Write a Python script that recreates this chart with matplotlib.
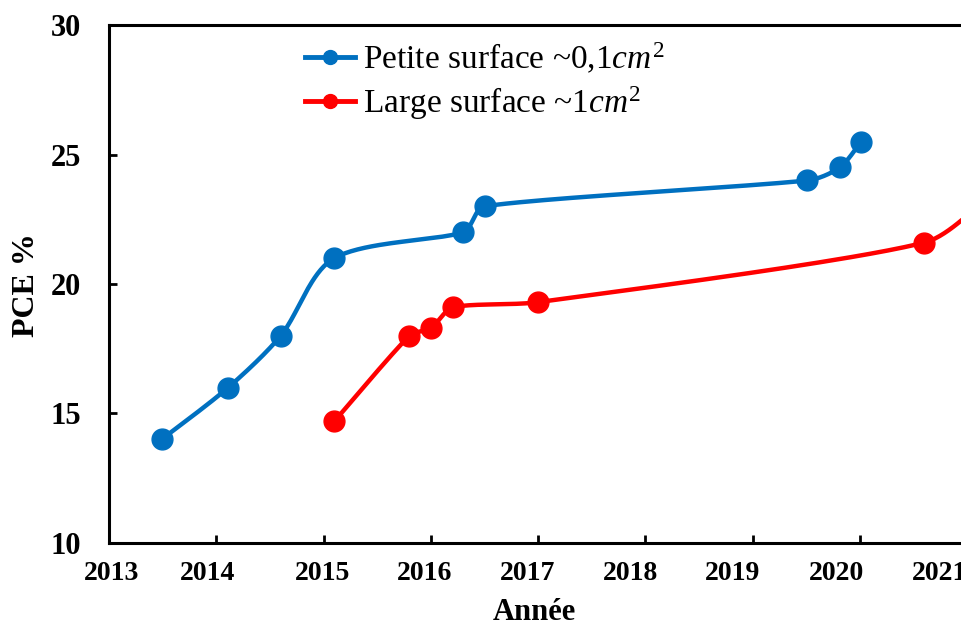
import matplotlib
matplotlib.use('Agg')
import matplotlib.pyplot as plt
from matplotlib.lines import Line2D
import numpy as np

# data
years = [2013, 2014, 2015, 2016, 2017, 2018, 2019, 2020, 2021]
yticks = [10, 15, 20, 25, 30]

small_x = [2013.49, 2014.11, 2014.60, 2015.10, 2016.30, 2016.50, 2019.51, 2019.81, 2020.01]
small_y = [14.0, 16.0, 18.0, 21.0, 22.0, 23.0, 24.0, 24.5, 25.5]

large_x = [2015.10, 2015.80, 2016.00, 2016.21, 2017.00, 2020.60, 2021.30]
large_y = [14.7, 18.0, 18.3, 19.1, 19.3, 21.6, 23.8]

label_small = 'Petite surface ~0,1$cm^2$'
label_large = 'Large surface ~1$cm^2$'

blue = '#0070C0'
red = '#FF0000'

# the year labels in the original sit a little left of their ticks
label_shift = [0.02, -0.08, -0.01, -0.06, -0.10, -0.14, -0.19, -0.22, -0.26]

plt.rcParams['font.family'] = ['Liberation Serif', 'DejaVu Serif']
plt.rcParams['mathtext.fontset'] = 'custom'
plt.rcParams['mathtext.rm'] = 'Liberation Serif'
plt.rcParams['mathtext.it'] = 'Liberation Serif:italic'

PX_X, PX_Y = 107.3, 25.9   # pixels per year / per PCE unit


def smooth(xs, ys, n=40):
    # Excel-like smoothed line: cubic bezier through the points,
    # worked out in pixel space, control arms clamped to short segments
    p = np.column_stack([np.array(xs) * PX_X, np.array(ys) * PX_Y])
    m = len(p)
    tang = np.zeros_like(p)
    for i in range(m):
        a = p[max(i - 1, 0)]
        b = p[min(i + 1, m - 1)]
        tang[i] = (b - a) / 6.0
    t = np.linspace(0, 1, n)[:, None]
    out = []
    for i in range(m - 1):
        p0, p1 = p[i], p[i + 1]
        L = np.linalg.norm(p1 - p0)
        d0, d1 = tang[i].copy(), tang[i + 1].copy()
        for d in (d0, d1):
            nd = np.linalg.norm(d)
            if nd > 0.3 * L:
                d *= 0.3 * L / nd
        c1 = p0 + d0
        c2 = p1 - d1
        seg = (1 - t)**3 * p0 + 3 * (1 - t)**2 * t * c1 + 3 * (1 - t) * t**2 * c2 + t**3 * p1
        out.append(seg if i == 0 else seg[1:])
    out = np.vstack(out)
    return out[:, 0] / PX_X, out[:, 1] / PX_Y


fig = plt.figure(figsize=(9.61, 6.27), dpi=100)
# axes runs past the right edge of the figure, as in the cropped original
ax = fig.add_axes([109 / 961, 84 / 627, 912 / 961, 518 / 627])

for xs, ys, c in [(small_x, small_y, blue), (large_x, large_y, red)]:
    sx, sy = smooth(xs, ys)
    ax.plot(sx, sy, color=c, lw=3.2, solid_capstyle='round', zorder=2)
    ax.plot(xs, ys, 'o', color=c, ms=15, zorder=3)

ax.set_xlim(2013, 2021.5)
ax.set_ylim(10, 30)

# tick marks at the years, labels placed separately
ax.set_xticks(years, minor=True)
ax.set_xticks([y + s for y, s in zip(years, label_shift)])
ax.set_xticklabels([str(y) for y in years], fontsize=20, fontweight='bold')
ax.tick_params(axis='x', which='minor', direction='in', length=6, width=2)
ax.tick_params(axis='x', which='major', length=0, pad=13)

ax.set_yticks(yticks)
ax.set_yticklabels([str(v) for v in yticks], fontsize=22, fontweight='bold')
ax.tick_params(axis='y', direction='in', length=6, width=2, pad=20)

for s in ax.spines.values():
    s.set_linewidth(2.2)

fig.text(534 / 961, 1 - 612 / 627, 'Année', fontsize=22, fontweight='bold',
         ha='center', va='center')
fig.text(27 / 961, 1 - 285 / 627, 'PCE %', fontsize=23, fontweight='bold',
         ha='center', va='center', rotation=90)

handles = [Line2D([], [], color=blue, lw=3.5, marker='o', ms=10),
           Line2D([], [], color=red, lw=3.5, marker='o', ms=10)]
ax.legend(handles, [label_small, label_large], loc='upper left',
          bbox_to_anchor=(305 / 961, 1 - 41 / 627), bbox_transform=fig.transFigure,
          frameon=False, fontsize=24, handlelength=1.5, handletextpad=0.25,
          labelspacing=0.25, borderpad=0, borderaxespad=0)

fig.savefig('out.png', dpi=100)
